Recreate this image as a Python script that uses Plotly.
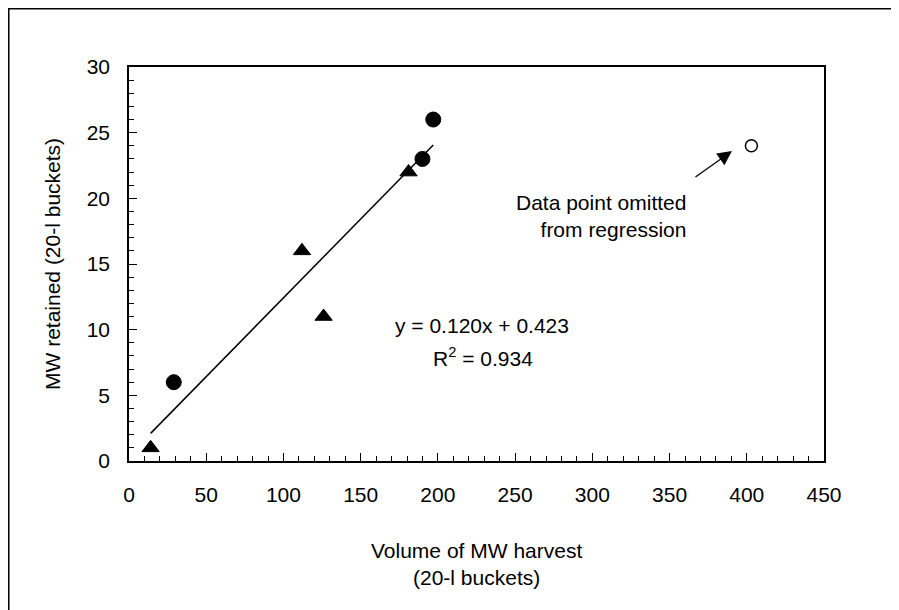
import plotly.graph_objects as go

# ---- data ----
circle_x = [29, 190, 197]
circle_y = [6, 23, 26]
triangle_x = [14, 112, 126, 181]
triangle_y = [1, 16, 11, 22]
omitted_x = [403]
omitted_y = [24]
fit_slope = 0.120
fit_intercept = 0.423
fit_r2 = 0.934
fit_x = [14, 197]
fit_y = [fit_slope * v + fit_intercept for v in fit_x]

x_ticks = [0, 50, 100, 150, 200, 250, 300, 350, 400, 450]
y_ticks = [0, 5, 10, 15, 20, 25, 30]

FONT = "Liberation Sans, Arial, sans-serif"
FS = 21

fig = go.Figure()
fig.add_trace(go.Scatter(x=fit_x, y=fit_y, mode="lines",
                         line=dict(color="black", width=1.5), showlegend=False, hoverinfo="skip"))
fig.add_trace(go.Scatter(x=circle_x, y=circle_y, mode="markers",
                         marker=dict(symbol="circle", size=15, color="black",
                                     line=dict(color="black", width=1)), showlegend=False))
fig.add_trace(go.Scatter(x=triangle_x, y=triangle_y, mode="markers",
                         marker=dict(symbol="triangle-up", size=15, color="black",
                                     line=dict(color="black", width=1)), showlegend=False))
fig.add_trace(go.Scatter(x=omitted_x, y=omitted_y, mode="markers",
                         marker=dict(symbol="circle", size=12, color="white",
                                     line=dict(color="black", width=1.5)), showlegend=False))

axis_common = dict(showgrid=False, zeroline=False, showline=True, linecolor="black",
                   linewidth=1.5, mirror=True, ticks="inside", ticklen=8, tickwidth=1.2,
                   tickcolor="black", tickfont=dict(family=FONT, size=FS, color="black"))

fig.update_xaxes(range=[0, 450], tickvals=x_ticks, ticklabelstandoff=14,
                 minor=dict(dtick=10, ticks="inside", ticklen=5, tickwidth=1, tickcolor="black"),
                 **axis_common)
fig.update_yaxes(range=[0, 30], tickvals=y_ticks, ticklabelstandoff=13,
                 minor=dict(dtick=1, ticks="inside", ticklen=5, tickwidth=1, tickcolor="black"),
                 **axis_common)

ann_font = dict(family=FONT, size=FS, color="black")
fig.add_annotation(x=0.5, y=-0.2614, xref="paper", yref="paper", showarrow=False,
                   text="Volume of MW harvest<br>(20-l buckets)", font=ann_font,
                   xanchor="center", yanchor="middle")
fig.add_annotation(x=-0.1108, y=0.5, xref="paper", yref="paper", showarrow=False,
                   text="MW retained (20-l buckets)", textangle=-90, font=ann_font,
                   xanchor="center", yanchor="middle")
fig.add_annotation(x=228.6, y=10.28, xref="x", yref="y", showarrow=False,
                   text=f"y = {fit_slope:.3f}x + {fit_intercept:.3f}", font=ann_font,
                   xanchor="center", yanchor="middle")
fig.add_annotation(x=229.5, y=7.92, xref="x", yref="y", showarrow=False,
                   text=f"R<sup>2</sup> = {fit_r2:.3f}", font=ann_font,
                   xanchor="center", yanchor="middle")
fig.add_annotation(x=362, y=18.66, xref="x", yref="y", showarrow=False,
                   text="Data point omitted<br>from regression", font=ann_font,
                   xanchor="right", yanchor="middle", align="right")
fig.add_annotation(x=390.4, y=23.6, ax=365.8, ay=21.55, xref="x", yref="y",
                   axref="x", ayref="y", showarrow=True, text="",
                   arrowhead=2, arrowsize=2.2, arrowwidth=1.3, arrowcolor="black")

# outer frame
fig.add_shape(type="rect", xref="paper", yref="paper",
              x0=-0.1730, x1=1.1072, y0=-0.383, y1=1.1478,
              line=dict(color="black", width=1.5), fillcolor="rgba(0,0,0,0)", layer="below")

fig.update_layout(width=899, height=610, margin=dict(l=121, r=83, t=59, b=157),
                  paper_bgcolor="white", plot_bgcolor="white",
                  font=dict(family=FONT, size=FS, color="black"), showlegend=False)

fig.write_html("out.html")
